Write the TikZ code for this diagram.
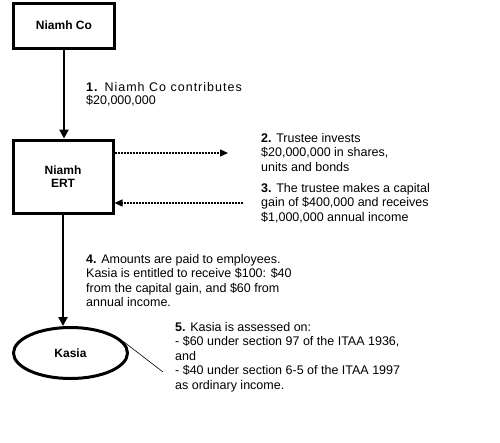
\documentclass[tikz,border=0pt]{standalone}
\usepackage{fontspec}
\setmainfont{Liberation Sans}
\usetikzlibrary{arrows.meta,shapes.geometric}
\begin{document}
\begin{tikzpicture}[x=1pt,y=-1pt,
  box/.style={draw,line width=3pt,inner sep=0pt,font=\fontsize{12}{14}\selectfont\bfseries,align=center},
  flow/.style={line width=2.6pt,-{Triangle[length=9pt,width=9pt]}},
  dot/.style={line width=1.4pt,dash pattern=on 2pt off 1pt,-{Triangle[length=8pt,width=7pt]}},
  lbl/.style={anchor=north west,inner sep=0pt,align=left,font=\fontsize{12.5}{14.5}\selectfont}]
\useasboundingbox (0,0) rectangle (500,442);
\node[box,minimum width=101pt,minimum height=45pt] (co) at (64,25.5) {Niamh Co};
\node[box,minimum width=100pt,minimum height=73pt] (ert) at (63,176.5) {Niamh\\[-1pt]ERT};
\node[box,ellipse,minimum width=114pt,minimum height=51pt] (kasia) at (70.5,353) {Kasia};
\coordinate (r1) at (228,153);
\coordinate (l1) at (243,203);
\coordinate (c5) at (163,372);
\draw[flow] (co.south) -- (co.south |- ert.north);
\draw[flow] (ert.south) -- (ert.south |- kasia.north);
\draw[dot] (ert.east |- r1) -- (r1);
\draw[dot] (l1) -- (ert.east |- l1);
\draw[line width=0.6pt] (kasia.12) -- (c5);
\node[lbl,font=\fontsize{12.5}{13}\selectfont] (t1) at (86,82) {{\addfontfeature{LetterSpace=8}\textbf{1.} Niamh Co contributes}\\\$20,000,000};
\node[lbl] (t2) at (261,133) {\textbf{2.} Trustee invests\\\$20,000,000 in shares,\\units and bonds};
\node[lbl] (t3) at (261,183) {\textbf{3.} The trustee makes a capital\\gain of \$400,000 and receives\\\$1,000,000 annual income};
\node[lbl] (t4) at (86,254) {\textbf{4.} Amounts are paid to employees.\\Kasia is entitled to receive \$100: \$40\\from the capital gain, and \$60 from\\annual income.};
\node[lbl] (t5) at (175,322) {\textbf{5.} Kasia is assessed on:\\- \$60 under section 97 of the ITAA 1936,\\and\\- \$40 under section 6-5 of the ITAA 1997\\as ordinary income.};
\end{tikzpicture}
\end{document}
